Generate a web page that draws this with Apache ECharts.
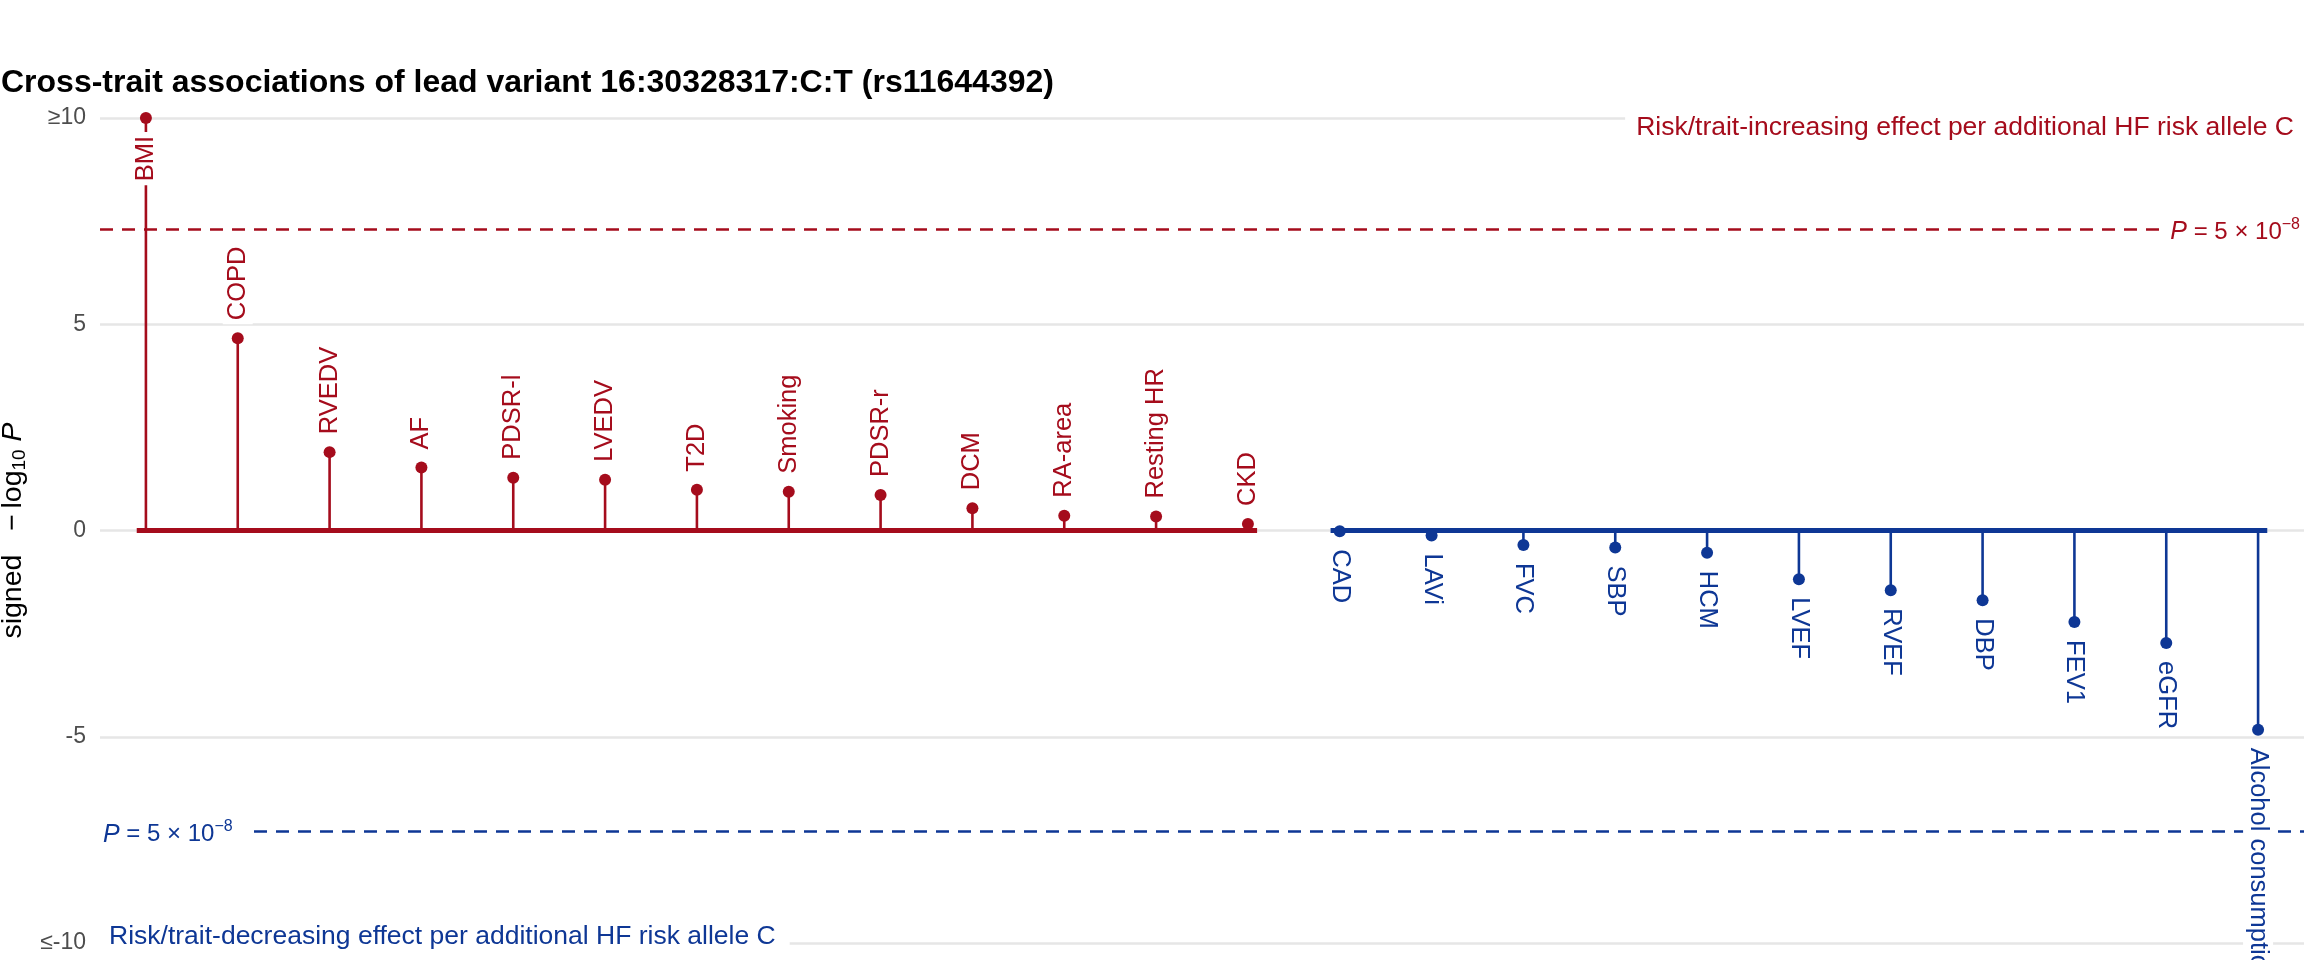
<!DOCTYPE html>
<html><head><meta charset="utf-8">
<script src="https://cdn.jsdelivr.net/npm/echarts@6/dist/echarts.min.js"></script>
<style>html,body{margin:0;padding:0;background:#fff}#c{width:2304px;height:960px}</style>
</head><body><div id="c"></div>
<script>
// ---- data ----
const traits = ['BMI','COPD','RVEDV','AF','PDSR-l','LVEDV','T2D','Smoking','PDSR-r','DCM','RA-area','Resting HR','CKD',
                'CAD','LAVi','FVC','SBP','HCM','LVEF','RVEF','DBP','FEV1','eGFR','Alcohol consumption'];
const signedLogP = [10, 4.66, 1.90, 1.53, 1.28, 1.23, 0.99, 0.94, 0.86, 0.54, 0.36, 0.34, 0.16,
                    -0.02, -0.12, -0.35, -0.41, -0.54, -1.18, -1.45, -1.69, -2.22, -2.73, -4.83];
const yTicks = [-10, -5, 0, 5, 10];
const yTickLabels = ['≤-10', '-5', '0', '5', '≥10'];
const gwThreshold = 7.30; // -log10(5e-8)
const titleText = 'Cross-trait associations of lead variant 16:30328317:C:T (rs11644392)';
const upText = 'Risk/trait-increasing effect per additional HF risk allele C';
const downText = 'Risk/trait-decreasing effect per additional HF risk allele C';
const upTextY = 9.76, downTextY = -9.85;

// ---- styling ----
const RED = '#a50c1c', BLUE = '#0e3795';
const FONT = '"Liberation Sans", Arial, Helvetica, sans-serif';
const LABEL_FS = 25.5;

const nCat = traits.length;
const nPos = signedLogP.filter(v => v > 0).length;
const ext = 0.1;

const chart = echarts.init(document.getElementById('c'), null, {renderer: 'canvas'});

const dotData = signedLogP.map((v, i) => {
  const pos = v >= 0;
  const capped = Math.abs(v) >= 10;
  const col = pos ? RED : BLUE;
  let lab;
  if (pos && !capped) lab = {position: 'top', rotate: 90, align: 'left'};
  else if (pos && capped) lab = {position: 'bottom', rotate: 90, align: 'right'};
  else lab = {position: 'bottom', rotate: -90, align: 'left'};
  return {
    name: traits[i],
    value: [traits[i], v],
    itemStyle: {color: col, opacity: 1},
    label: Object.assign({
      show: true, formatter: '{b}', color: col, fontSize: LABEL_FS, fontFamily: FONT,
      verticalAlign: 'middle', distance: 8, backgroundColor: '#fff',
      padding: [2, 4], lineHeight: 26, opacity: 1
    }, lab)
  };
});

const pRich = (col) => ({
  i: {fontStyle: 'italic', fontSize: 25, color: col, fontFamily: FONT, lineHeight: 32},
  n: {fontSize: 24, color: col, fontFamily: FONT, lineHeight: 32},
  sup: {fontSize: 16, color: col, fontFamily: FONT, verticalAlign: 'top', lineHeight: 32}
});
const pText = '{i|P}{n| = 5 × 10}{sup|−8}';

const annData = [
  {value: [nCat + 0.5, upTextY], label: {show: true, formatter: upText, position: 'left', distance: 0,
    color: RED, fontSize: 26.5, fontFamily: FONT, backgroundColor: '#fff', padding: [4, 10, 4, 11]}},
  {value: [nCat + 0.5, gwThreshold], label: {show: true, formatter: pText, rich: pRich(RED), position: 'left', distance: 0,
    offset: [0, 3], backgroundColor: '#fff', padding: [0, 4, 0, 8]}},
  {value: [0.5, -gwThreshold], label: {show: true, formatter: pText, rich: pRich(BLUE), position: 'right', distance: 0,
    offset: [0, 3], backgroundColor: '#fff', padding: [0, 16, 0, 3]}},
  {value: [0.5, downTextY], label: {show: true, formatter: downText, position: 'right', distance: 0,
    color: BLUE, fontSize: 26.5, fontFamily: FONT, backgroundColor: '#fff', padding: [4, 14, 4, 9]}}
];

const option = {
  animation: false,
  backgroundColor: '#fff',
  title: {
    text: titleText, left: 1, top: 67, padding: 0,
    textStyle: {fontSize: 32, fontWeight: 'bold', color: '#000', fontFamily: FONT}
  },
  grid: {left: 100, right: 0, top: 118, bottom: 17, containLabel: false, outerBoundsMode: 'none'},
  xAxis: [
    {type: 'category', data: traits, boundaryGap: true, show: false},
    {type: 'value', min: 0.5, max: nCat + 0.5, show: false}
  ],
  yAxis: {
    type: 'value', min: -10, max: 10, interval: 5,
    axisLine: {show: false}, axisTick: {show: false},
    splitLine: {lineStyle: {color: '#e6e6e6', width: 2.5}},
    axisLabel: {
      formatter: v => { const k = yTicks.indexOf(v); return k >= 0 ? yTickLabels[k] : ''; },
      fontSize: 23, color: '#4d4d4d', margin: 14, fontFamily: FONT
    },
    name: '{a|signed   −\u2009log}{s|10}{a| }{i|P}',
    nameLocation: 'middle', nameRotate: 90, nameGap: 70,
    nameTextStyle: {
      rich: {
        a: {fontSize: 28.5, color: '#000', fontFamily: FONT, lineHeight: 32},
        s: {fontSize: 19, color: '#000', fontFamily: FONT, verticalAlign: 'bottom', lineHeight: 32},
        i: {fontSize: 28.5, color: '#000', fontFamily: FONT, fontStyle: 'italic', lineHeight: 32}
      }
    }
  },
  series: [
    {
      type: 'bar', xAxisIndex: 0, barWidth: 2.6, silent: true, z: 3,
      data: signedLogP.map(v => ({value: v, itemStyle: {color: v >= 0 ? RED : BLUE}}))
    },
    {
      type: 'line', xAxisIndex: 1, symbol: 'none', silent: true, z: 4,
      lineStyle: {color: RED, width: 5, cap: 'butt'},
      data: [[1 - ext, 0], [nPos + ext, 0]],
      markLine: {
        silent: true, symbol: ['none', 'none'], label: {show: false}, z: 2,
        lineStyle: {color: RED, type: [13, 9], width: 2.5},
        data: [{yAxis: gwThreshold}]
      }
    },
    {
      type: 'line', xAxisIndex: 1, symbol: 'none', silent: true, z: 4,
      lineStyle: {color: BLUE, width: 5, cap: 'butt'},
      data: [[nPos + 1 - ext, 0], [nCat + ext, 0]],
      markLine: {
        silent: true, symbol: ['none', 'none'], label: {show: false}, z: 2,
        lineStyle: {color: BLUE, type: [13, 9], width: 2.5},
        data: [{yAxis: -gwThreshold}]
      }
    },
    {
      type: 'scatter', xAxisIndex: 0, symbolSize: 12, z: 10, silent: true,
      itemStyle: {opacity: 1},
      data: dotData
    },
    {
      type: 'scatter', xAxisIndex: 1, symbolSize: 0, z: 20, silent: true,
      itemStyle: {opacity: 1},
      data: annData
    }
  ]
};
chart.setOption(option);
</script>
</body></html>
